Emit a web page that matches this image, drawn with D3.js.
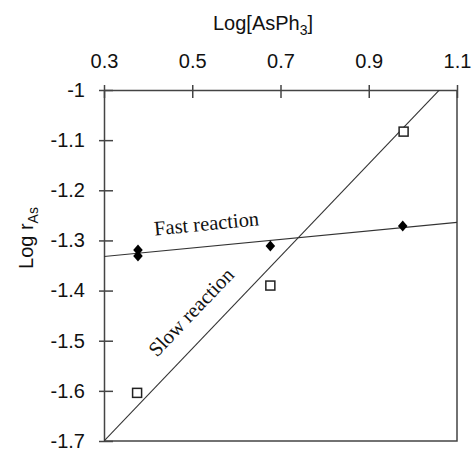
<!DOCTYPE html>
<html>
<head>
<meta charset="utf-8">
<script src="https://cdn.jsdelivr.net/npm/d3@7"></script>
<style>
  body { margin: 0; background: #fff; }
  svg { display: block; }
</style>
</head>
<body>
<script>
// data
var fastX = [0.377, 0.377, 0.677, 0.977];
var fastY = [-1.319, -1.331, -1.311, -1.271];
var slowX = [0.375, 0.677, 0.979];
var slowY = [-1.604, -1.390, -1.083];

// fitted lines: y = intercept + slope * x
var fastFit = { intercept: -1.3575, slope: 0.085 };
var slowFit = { intercept: -1.9763, slope: 0.921 };

var xTicks = [0.3, 0.5, 0.7, 0.9, 1.1];
var yTicks = [-1, -1.1, -1.2, -1.3, -1.4, -1.5, -1.6, -1.7];

var width = 472, height = 449;
// plot box in pixels (note: "top" is taken by window.top)
var plotLeft = 104, plotRight = 457, plotTop = 90, plotBottom = 441;

var x = d3.scaleLinear().domain([0.3, 1.1]).range([plotLeft, plotRight]);
var y = d3.scaleLinear().domain([-1.7, -1]).range([plotBottom, plotTop]);

var svg = d3.select("body").append("svg")
    .attr("width", width)
    .attr("height", height);

svg.append("clipPath").attr("id", "plot")
  .append("rect")
    .attr("x", plotLeft).attr("y", plotTop)
    .attr("width", plotRight - plotLeft).attr("height", plotBottom - plotTop);

// frame (right and bottom)
svg.append("path")
    .attr("d", `M${plotRight},${plotTop}V${plotBottom}H${plotLeft}`)
    .attr("fill", "none")
    .attr("stroke", "#444")
    .attr("stroke-width", 1.5);

// top axis
var xAxis = svg.append("g")
    .attr("transform", `translate(0,${plotTop})`)
    .call(d3.axisTop(x).tickValues(xTicks).tickFormat(d3.format(".1f")).tickSizeOuter(0));
xAxis.selectAll(".tick line").attr("y1", -5).attr("y2", 8);
xAxis.selectAll(".tick text").attr("y", -22);

// left axis
var yAxis = svg.append("g")
    .attr("transform", `translate(${plotLeft},0)`)
    .call(d3.axisLeft(y).tickValues(yTicks).tickFormat(d => d === -1 ? "-1" : d3.format(".1f")(d).replace("−", "-")).tickSizeOuter(0));
yAxis.selectAll(".tick line").attr("x1", -5).attr("x2", 9);
yAxis.selectAll(".tick text").attr("x", -19);

svg.selectAll(".domain, .tick line").attr("stroke", "#444").attr("stroke-width", 1.5);
svg.selectAll(".tick text")
    .attr("fill", "#111")
    .style("font-family", "'Liberation Sans', Arial, sans-serif")
    .style("font-size", "20px");

// axis titles
var title = svg.append("text")
    .attr("x", 263).attr("y", 30)
    .attr("text-anchor", "middle")
    .style("font-family", "'Liberation Sans', Arial, sans-serif")
    .style("font-size", "20px")
    .attr("fill", "#111");
title.append("tspan").text("Log[AsPh");
title.append("tspan").attr("dy", 5).style("font-size", "14px").text("3");
title.append("tspan").attr("dy", -5).text("]");

var ylab = svg.append("text")
    .attr("transform", "translate(33,238) rotate(-90)")
    .attr("text-anchor", "middle")
    .style("font-family", "'Liberation Sans', Arial, sans-serif")
    .style("font-size", "20px")
    .attr("fill", "#111");
ylab.append("tspan").text("Log r");
ylab.append("tspan").attr("dy", 5).style("font-size", "14px").text("As");

// fit lines
var fits = [fastFit, slowFit];
svg.append("g").attr("clip-path", "url(#plot)")
  .selectAll("line").data(fits).join("line")
    .attr("x1", x(0.3)).attr("y1", d => y(d.intercept + d.slope * 0.3))
    .attr("x2", x(1.1)).attr("y2", d => y(d.intercept + d.slope * 1.1))
    .attr("stroke", "#333")
    .attr("stroke-width", 1.1);

// markers: filled diamonds (fast), open squares (slow)
svg.append("g").selectAll("path")
  .data(fastX.map((v, i) => [v, fastY[i]]))
  .join("path")
    .attr("d", "M0,-5.5L4.8,0L0,5.5L-4.8,0Z")
    .attr("transform", d => `translate(${x(d[0])},${y(d[1])})`)
    .attr("fill", "#000");

svg.append("g").selectAll("rect")
  .data(slowX.map((v, i) => [v, slowY[i]]))
  .join("rect")
    .attr("x", d => x(d[0]) - 4.5).attr("y", d => y(d[1]) - 4.5)
    .attr("width", 9).attr("height", 9)
    .attr("fill", "#fff")
    .attr("stroke", "#222")
    .attr("stroke-width", 1.5);

// line labels
function angle(fit) {
  var dx = x(1.1) - x(0.3);
  var dy = y(fit.intercept + fit.slope * 1.1) - y(fit.intercept + fit.slope * 0.3);
  return Math.atan2(dy, dx) * 180 / Math.PI;
}
var labels = [
  { text: "Fast reaction", x: 0.415, y: -1.290, fit: fastFit },
  { text: "Slow reaction", x: 0.42, y: -1.534, fit: slowFit }
];
svg.append("g").selectAll("text").data(labels).join("text")
    .attr("transform", d => `translate(${x(d.x)},${y(d.y)}) rotate(${angle(d.fit)})`)
    .style("font-family", "'Liberation Serif', 'Times New Roman', serif")
    .style("font-size", "20.5px")
    .attr("fill", "#111")
    .text(d => d.text);
</script>
</body>
</html>
